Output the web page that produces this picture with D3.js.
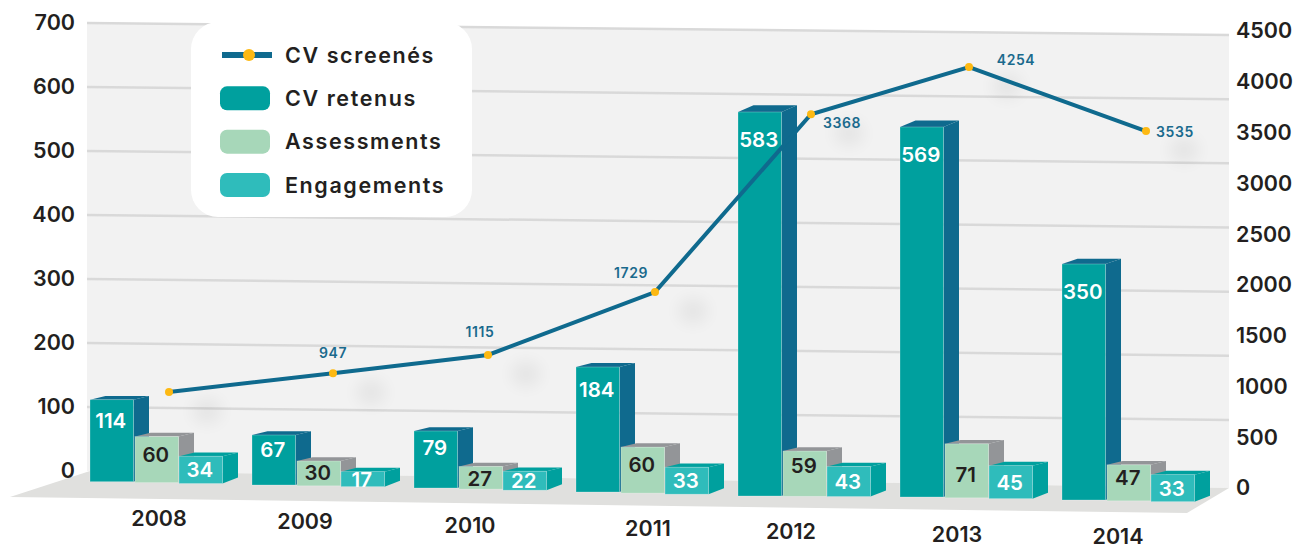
<!DOCTYPE html>
<html><head><meta charset="utf-8">
<style>
html,body{margin:0;padding:0;background:#fff}
svg{display:block}
text{font-family:Inter,"Open Sans",sans-serif;font-weight:600;fill:#231f20}
</style>
<script src="https://cdn.jsdelivr.net/npm/d3@7/dist/d3.min.js"></script>
</head><body>
<svg id="c" width="1294" height="546"></svg>
<script>
// ---- data ----
const years = [2008, 2009, 2010, 2011, 2012, 2013, 2014];
const cvRetenus = [114, 67, 79, 184, 583, 569, 350];
const assessments = [60, 30, 27, 60, 59, 71, 47];
const engagements = [34, 17, 22, 33, 43, 45, 33];
// printed labels of the line (2008 carries none)
const cvScreenesLabels = ["", "947", "1115", "1729", "3368", "4254", "3535"];
// line heights as read against the right axis
const cvScreenesRead = [945, 1130, 1310, 1930, 3680, 4145, 3515];
const leftTicks = [0, 100, 200, 300, 400, 500, 600, 700];
const rightTicks = [0, 500, 1000, 1500, 2000, 2500, 3000, 3500, 4000, 4500];

// ---- layout ----
const svg = d3.select("#c");
const wall = {x0: 87, x1: 1229};
const yLeft = d3.scaleLinear().domain([0, 100, 700]).range([471, 407, 23]);
const yGridRight = d3.scaleLinear().domain([0, 100, 700]).range([488, 420, 35]);
const yRight = d3.scaleLinear().domain([0, 4500]).range([488, 31]);
const xBar = d3.scaleLinear().domain([2008, 2014]).range([90, 1062]);
const xLine = d3.scaleLinear().domain(years).range([169, 333, 488, 655, 811, 969, 1146]);
const base = d3.scaleLinear().domain(years).range([481.7, 485, 488, 492, 496, 497, 500]);
// the drawing's bar heights are not strictly proportional: a piecewise scale follows them
const h = d3.scaleLinear()
  .domain([17, 22, 33, 43, 47, 60, 67, 71, 79, 114, 184, 350, 569, 583])
  .range([15, 19, 27, 30, 36, 46, 50, 54, 57, 82, 125, 236, 370, 384]);
const yearX = d3.scaleOrdinal().domain(years).range([159, 305, 470, 648, 791, 957, 1118]);
const yearY = d3.scaleLinear().domain(years).range([518, 521, 525, 528, 531, 534, 536]);
const barW = 43.5, depthX = 15.5, depthBottom = -6;
// top faces open up the higher they sit in the perspective
const depthY = d3.scaleLinear().domain([112, 399]).range([-6.7, -3.8]).clamp(true);
const offRet = d3.scaleLinear().domain([50, 82, 236]).range([15, 21, 28]).clamp(true);
const offAss = d3.scaleLinear().domain([25, 45, 47, 54]).range([12, 14, 22, 31]).clamp(true);
const offEng = v => v / 2;
const series = [
  {name: "CV retenus", values: cvRetenus, dx: 0, front: "#00a09e", side: "#0f6a8e", text: "#fff", off: offRet},
  {name: "Assessments", values: assessments, dx: 45, front: "#a7d7b9", side: "#939598", text: "#231f20", off: offAss},
  {name: "Engagements", values: engagements, dx: 89, front: "#2fbcbb", side: "#00a09e", text: "#fff", off: offEng}
];
const labelOffsets = [[0,0],[0,-20],[-8,-23],[-24,-19],[31,9],[47,-7],[29,1]];

svg.append("defs").append("filter").attr("id", "blur")
  .attr("x", "-100%").attr("y", "-100%").attr("width", "300%").attr("height", "300%")
  .append("feGaussianBlur").attr("stdDeviation", 8);

// wall
svg.append("polygon").attr("fill", "#f2f2f2")
  .attr("points", [[wall.x0, yLeft(700)], [wall.x1, yGridRight(700)], [wall.x1, yGridRight(0)], [wall.x0, yLeft(0)]].join(" "));
// floor
svg.append("polygon").attr("fill", "#e0e0de")
  .attr("points", [[10, 497], [90, yLeft(0)], [wall.x1, yGridRight(0)], [1187, 513]].join(" "));
// grid
svg.append("g").selectAll("line").data(leftTicks.filter(d => d > 0)).join("line")
  .attr("x1", wall.x0).attr("x2", wall.x1)
  .attr("y1", d => yLeft(d)).attr("y2", d => yGridRight(d))
  .attr("stroke", "#d9d9d9").attr("stroke-width", 2.5);

// soft shadows below the line markers
svg.append("g").selectAll("ellipse").data(years).join("ellipse")
  .attr("cx", d => xLine(d) + 38)
  .attr("cy", (d, i) => yRight(cvScreenesRead[i]) + 19)
  .attr("rx", 15).attr("ry", 13)
  .attr("fill", "#000").attr("opacity", 0.05).attr("filter", "url(#blur)");

// bars
years.forEach((yr, i) => {
  const g = svg.append("g");
  series.forEach(s => {
    const v = s.values[i];
    const x = xBar(yr) + s.dx, b = base(yr + s.dx / 162), ht = h(v), t = b - ht, dy = depthY(t);
    g.append("polygon").attr("fill", s.side).attr("points",
      [[x + barW, t], [x + barW + depthX, t + dy], [x + barW + depthX, b + depthBottom], [x + barW, b]].join(" "));
    g.append("polygon").attr("fill", s.side).attr("points",
      [[x, t], [x + depthX, t + dy], [x + barW + depthX, t + dy], [x + barW, t]].join(" "));
    g.append("rect").attr("x", x).attr("y", t).attr("width", barW).attr("height", ht)
      .attr("fill", s.front).attr("stroke", "#fff").attr("stroke-opacity", 0.35).attr("stroke-width", 0.7);
    g.append("text").attr("x", x + barW / 2 - 1).attr("y", t + s.off(ht)).attr("dy", "0.36em")
      .attr("text-anchor", "middle").style("fill", s.text).style("font-size", "20.5px").text(v);
  });
});

// line
const pts = years.map((y, i) => [xLine(y), yRight(cvScreenesRead[i])]);
svg.append("path").attr("d", d3.line()(pts)).attr("fill", "none")
  .attr("stroke", "#0f6a8e").attr("stroke-width", 4);
svg.append("g").selectAll("circle").data(pts).join("circle")
  .attr("cx", d => d[0]).attr("cy", d => d[1]).attr("r", 4).attr("fill", "#fdb913");
svg.append("g").selectAll("text").data(pts).join("text")
  .attr("x", (d, i) => d[0] + labelOffsets[i][0])
  .attr("y", (d, i) => d[1] + labelOffsets[i][1]).attr("dy", "0.36em")
  .attr("text-anchor", "middle").style("fill", "#1a6a8d").style("font-size", "14px").style("letter-spacing", "0.6px")
  .text((d, i) => cvScreenesLabels[i]);

// axes
const axL = svg.append("g").attr("transform", "translate(80,0)")
  .call(d3.axisLeft(yLeft).tickValues(leftTicks).tickSize(0).tickPadding(5));
const axR = svg.append("g").attr("transform", "translate(1231,0)")
  .call(d3.axisRight(yRight).tickValues(rightTicks).tickFormat(d3.format("d")).tickSize(0).tickPadding(5));
[axL, axR].forEach(a => {
  a.attr("font-family", null).attr("font-size", null);
  a.select(".domain").remove();
  a.selectAll("text").style("font-size", "21.5px");
});

svg.append("g").selectAll("text").data(years).join("text")
  .attr("x", d => yearX(d)).attr("y", d => yearY(d)).attr("dy", "0.36em")
  .attr("text-anchor", "middle").style("font-size", "21.5px").text(d => d);

// legend
const lg = svg.append("g");
lg.append("rect").attr("x", 191).attr("y", 22).attr("width", 281).attr("height", 195).attr("rx", 27).attr("fill", "#fff");
lg.append("line").attr("x1", 222).attr("x2", 272).attr("y1", 55).attr("y2", 55).attr("stroke", "#0f6a8e").attr("stroke-width", 6);
lg.append("circle").attr("cx", 249).attr("cy", 55).attr("r", 6).attr("fill", "#fdb913");
const legendY = d3.scalePoint().domain(["CV screenés", ...series.map(s => s.name)]).range([55, 185]);
lg.selectAll("rect.sw").data(series).join("rect").attr("class", "sw")
  .attr("x", 220).attr("y", d => legendY(d.name) - 12).attr("width", 50).attr("height", 24).attr("rx", 7)
  .attr("fill", d => d.front);
lg.selectAll("text").data(legendY.domain()).join("text")
  .attr("x", 285).attr("y", d => legendY(d)).attr("dy", "0.36em")
  .style("font-size", "21.5px").style("letter-spacing", "1.6px").text(d => d);
</script>
</body></html>
